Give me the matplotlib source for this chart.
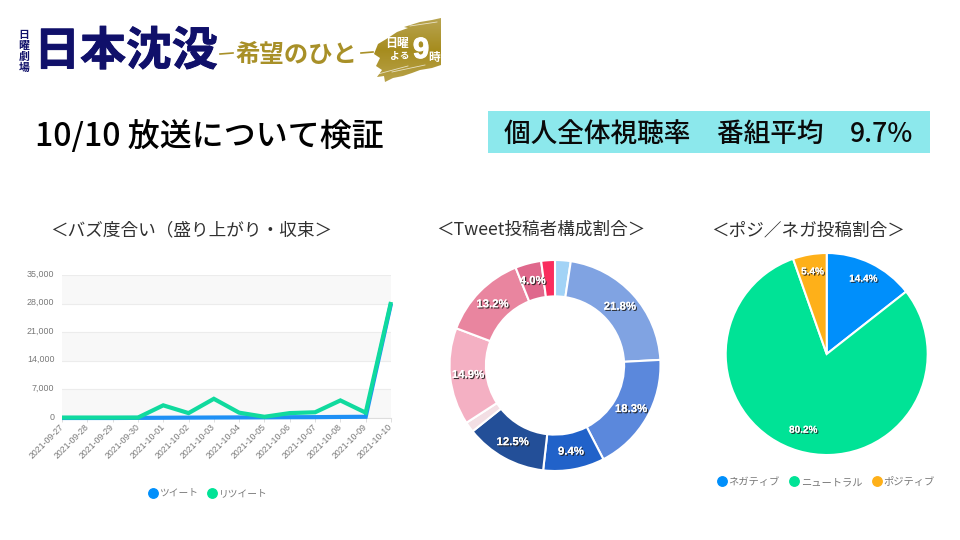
import matplotlib
matplotlib.use("Agg")
import matplotlib.pyplot as plt
import matplotlib.patheffects as pe
from matplotlib.lines import Line2D
from matplotlib.patches import Polygon, Rectangle
from matplotlib.transforms import ScaledTranslation
import numpy as np

plt.rcParams['font.family'] = ['Noto Sans CJK JP', 'DejaVu Sans']

# line chart
dates = ['2021-09-27', '2021-09-28', '2021-09-29', '2021-09-30', '2021-10-01',
         '2021-10-02', '2021-10-03', '2021-10-04', '2021-10-05', '2021-10-06',
         '2021-10-07', '2021-10-08', '2021-10-09', '2021-10-10']
tweets = [0, 0, 0, 30, 60, 90, 120, 140, 160, 190, 210, 260, 300, 28000]
retweets = [100, 100, 100, 100, 3100, 1200, 4700, 1300, 300, 1200, 1400, 4300, 1300, 28400]
y_ticks = [0, 7000, 14000, 21000, 28000, 35000]

# donut, unlabelled slices are estimated
donut_values = [2.4, 21.8, 18.3, 9.4, 12.5, 1.6, 14.9, 13.2, 4.0, 2.1]
donut_colors = ['#a2d3f6', '#80a3e2', '#5b88dc', '#2162c9', '#234f98',
                '#f3dfe4', '#f4b0c3', '#e9859f', '#df688c', '#f92d5e']

# pie
pie_labels = ['ネガティブ', 'ニュートラル', 'ポジティブ']
pie_values = [14.4, 80.2, 5.4]
pie_colors = ['#008ffb', '#00e396', '#feb019']

W, H = 960, 540
fig = plt.figure(figsize=(W / 100, H / 100), dpi=100, facecolor='white')


def px_axes(x0, y0, x1, y1):
    return fig.add_axes([x0 / W, 1 - y1 / H, (x1 - x0) / W, (y1 - y0) / H])


# overlay in pixel coordinates for the slide furniture
bg = px_axes(0, 0, W, H)
bg.set_xlim(0, W)
bg.set_ylim(H, 0)
bg.axis('off')

# logo
navy = '#10106a'
gold = '#a89028'
thick = [pe.withStroke(linewidth=0.7, foreground=navy)]
for ch, yy in zip('日曜劇場', [35, 46, 57, 68]):
    bg.text(24, yy, ch, color=navy, fontsize=7.8, fontweight='bold', ha='center', va='center')
bg.text(126, 52, '日本沈没', color=navy, fontsize=33, fontweight='bold', ha='center', va='center',
        path_effects=thick)
bg.text(296, 55, '希望のひと', color=gold, fontsize=17.6, fontweight='bold', ha='center', va='center')
bg.plot([220, 233], [54, 53], color=gold, lw=1.2)
bg.plot([361, 373], [53, 52], color=gold, lw=1.2)

# gold brush stroke
brush = Polygon([(441, 18), (441, 65), (432, 68), (420, 70), (412, 73), (403, 76), (393, 78),
                 (385, 82), (384, 76), (377, 77), (382, 70), (376, 66), (380, 58), (374, 54),
                 (378, 44), (388, 38), (397, 32), (408, 28), (404, 27), (420, 22), (432, 20)],
                closed=True, transform=bg.transData, facecolor='none', edgecolor='none')
bg.add_patch(brush)
grad = np.linspace(0, 1, 64).reshape(-1, 1)
im = bg.imshow(grad, extent=[373, 441, 82, 18], aspect='auto', zorder=2,
               cmap=matplotlib.colors.LinearSegmentedColormap.from_list('g', ['#b8a450', '#a68c1e', '#b8a24a']))
im.set_clip_path(brush)
bg.set_xlim(0, W)
bg.set_ylim(H, 0)
for xs, ys in [([378, 408], [74, 66]), ([392, 425], [72, 65]), ([410, 437], [26, 22])]:
    bg.plot(xs, ys, color='white', lw=0.6, alpha=0.7, zorder=2.5)
bg.text(397, 43, '日曜', color='white', fontsize=8.6, fontweight='bold', ha='center', va='center', zorder=3)
bg.text(400, 56.5, 'よる', color='white', fontsize=7, fontweight='bold', ha='center', va='center', zorder=3)
bg.text(421, 50, '9', color='white', fontsize=21, fontweight='bold', ha='center', va='center', zorder=3,
        family='Liberation Sans', path_effects=[pe.withStroke(linewidth=0.8, foreground='white')])
bg.text(434, 57.5, '時', color='white', fontsize=8.4, fontweight='bold', ha='center', va='center', zorder=3)

# headline
bg.text(35, 137, '10/10 放送について検証', color='black', fontsize=23, fontweight='medium', va='center')
bg.add_patch(Rectangle((488, 111), 442, 42, facecolor='#8ce8ec', edgecolor='none'))
bg.text(504, 135, '個人全体視聴率　番組平均　', color='#0a0a0a', fontsize=19.2, fontweight='medium', va='center')
bg.text(913, 135, '9.7%', color='#0a0a0a', fontsize=19.2, fontweight='medium', va='center', ha='right')

# chart titles
title_color = '#303030'
bg.text(191, 230, '＜バズ度合い（盛り上がり・収束＞', color=title_color, fontsize=12.7, ha='center', va='center')
bg.text(541, 230, '＜Tweet投稿者構成割合＞', color=title_color, fontsize=12.7, ha='center', va='center')
bg.text(808, 230, '＜ポジ／ネガ投稿割合＞', color=title_color, fontsize=12.7, ha='center', va='center')

# line chart
grey = '#787878'
ax = px_axes(62, 275, 391, 418)
x = np.arange(len(dates))
for lo, hi, col in zip(y_ticks[:-1], y_ticks[1:], ['#f8f8f8', 'white', '#f8f8f8', 'white', '#f8f8f8']):
    ax.axhspan(lo, hi, facecolor=col, edgecolor='none', zorder=0)
ax.set_xlim(0, len(dates) - 1)
ax.set_ylim(0, 35000)
ax.set_yticks(y_ticks)
ax.set_yticklabels([f'{v:,}' for v in y_ticks], fontsize=6.4, color=grey, family='Liberation Sans')
ax.set_xticks(x)
ax.set_xticklabels(dates, fontsize=6.3, color=grey, rotation=45, ha='right', va='top',
                   rotation_mode='anchor', family='Liberation Sans')
ax.grid(axis='y', color='#ececec', lw=0.8, zorder=1)
ax.tick_params(axis='y', length=0, pad=5.5)
ax.tick_params(axis='x', length=3, color='#dddddd', width=0.7, pad=1)
for lab in ax.get_yticklabels():
    lab.set_transform(lab.get_transform() + ScaledTranslation(0, 2 / 100, fig.dpi_scale_trans))
for lab in ax.get_xticklabels():
    lab.set_transform(lab.get_transform() + ScaledTranslation(-3 / 100, 1 / 100, fig.dpi_scale_trans))
for name, spine in ax.spines.items():
    spine.set_visible(name == 'bottom')
ax.spines['bottom'].set_color('#dddddd')
ax.plot(x, tweets, color='#1e90f5', lw=3, clip_on=False, zorder=3, solid_joinstyle='miter', solid_capstyle='butt')
ax.plot(x, retweets, color='#10da9e', lw=3, clip_on=False, zorder=4, solid_joinstyle='miter', solid_capstyle='butt')


def circle_legend(labels, colors, cx, cy, size):
    handles = [Line2D([], [], marker='o', ls='none', ms=6.8, color=c, label=l)
               for l, c in zip(labels, colors)]
    fig.legend(handles=handles, loc='center', bbox_to_anchor=(cx / W, 1 - cy / H), ncol=len(labels),
               frameon=False, fontsize=size, labelcolor=grey, handlelength=0.9, handletextpad=0.2,
               columnspacing=0.95, borderpad=0, borderaxespad=0)


circle_legend(['ツイート', 'リツイート'], ['#008ffb', '#00e396'], 208, 493, 7)

shadow = [pe.withSimplePatchShadow(offset=(0.9, -0.9), shadow_rgbFace='#222222', alpha=0.9), pe.Normal()]


def round_pie(values, colors, cx, cy, r, min_label, font_size, width=None):
    box = r * 1.05
    pax = px_axes(cx - box, cy - box, cx + box, cy + box)
    wedgeprops = dict(edgecolor='white', linewidth=1.5)
    if width:
        wedgeprops['width'] = width
    total = sum(values)
    res = pax.pie(values, colors=colors, startangle=90, counterclock=False, radius=1,
                  wedgeprops=wedgeprops, pctdistance=0.83,
                  autopct=lambda p: f'{p * total / 100:.1f}%' if p >= min_label else '',
                  textprops=dict(color='white', fontsize=font_size, fontweight='bold',
                                 family='Liberation Sans'))
    pax.set_xlim(-1.05, 1.05)
    pax.set_ylim(-1.05, 1.05)
    for t in res[2]:
        t.set_path_effects(shadow)
    return res


round_pie(donut_values, donut_colors, 555, 365.5, 105.5, 3.5, 8.2, width=0.345)
pie_res = round_pie(pie_values, pie_colors, 826.7, 354, 101, 3.5, 7.2)
# the big slice's label sits a little further in
big = pie_res[2][1]
big.set_position((big.get_position()[0], big.get_position()[1] * 0.94))
circle_legend(pie_labels, pie_colors, 826, 482, 7.4)

fig.savefig('out.png', dpi=100, facecolor='white')
